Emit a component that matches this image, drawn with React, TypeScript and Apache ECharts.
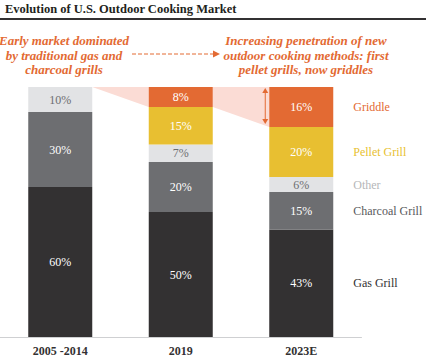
import React, { useEffect, useRef } from "react";
import * as echarts from "echarts";

const categories = ["2005 -2014", "2019", "2023E"];
const gasGrill = [60, 50, 43];
const charcoalGrill = [30, 20, 15];
const other = [10, 7, 6];
const pelletGrill = [0, 15, 20];
const griddle = [0, 8, 16];
const seriesNames = ["Gas Grill", "Charcoal Grill", "Other", "Pellet Grill", "Griddle"];

const FONT = "Liberation Serif";
const ORANGE = "#e36a33";
const BAR_W = 64;

export default function App() {
  const ref = useRef<HTMLDivElement>(null);
  useEffect(() => {
    document.body.style.margin = "0";
    const chart = echarts.init(ref.current!, null, { renderer: "svg" });
    const values = [gasGrill, charcoalGrill, other, pelletGrill, griddle];
    const colors = ["#333132", "#6d6e71", "#e2e3e5", "#e8bf31", ORANGE];
    const labelColors = ["#ffffff", "#ffffff", "#6d6e71", "#ffffff", "#ffffff"];
    const nameColors = ["#333132", "#58595b", "#b6b7b9", "#e8bf31", ORANGE];

    const barSeries = values.map((vals, i) => ({
      type: "bar",
      name: seriesNames[i],
      stack: "total",
      barWidth: BAR_W,
      data: vals,
      itemStyle: { color: colors[i] },
      label: {
        show: true,
        position: "inside",
        color: labelColors[i],
        fontFamily: FONT,
        fontSize: 12,
        formatter: (p: any) => (p.value ? p.value + "%" : ""),
      },
      z: 3,
    }));

    const last = categories.length - 1;
    const labelData: any[] = [];
    let cum = 0;
    values.forEach((vals, i) => {
      const v = vals[last];
      labelData.push([last, cum + v / 2, i]);
      cum += v;
    });

    const nameSeries = {
      type: "custom",
      data: labelData,
      z: 5,
      silent: true,
      renderItem: (params: any, api: any) => {
        const pt = api.coord([api.value(0), api.value(1)]);
        const i = api.value(2);
        return {
          type: "text",
          x: pt[0] + BAR_W / 2 + 20,
          y: pt[1],
          style: {
            text: seriesNames[i],
            fill: nameColors[i],
            fontFamily: FONT,
            fontSize: 12,
            verticalAlign: "middle",
            align: "left",
          },
        };
      },
    };

    const shadeData = categories.slice(1).map((_, k) => [k + 1]);
    const shadeSeries = {
      type: "custom",
      data: shadeData,
      z: 1,
      silent: true,
      renderItem: (params: any, api: any) => {
        const idx = api.value(0);
        const prev = api.coord([idx - 1, 100]);
        const cur = api.coord([idx, 100]);
        const prevBot = api.coord([idx - 1, 100 - griddle[idx - 1]]);
        const curBot = api.coord([idx, 100 - griddle[idx]]);
        return {
          type: "polygon",
          shape: {
            points: [
              [prev[0] + BAR_W / 2, prev[1]],
              [cur[0] - BAR_W / 2, cur[1]],
              [cur[0] - BAR_W / 2, curBot[1]],
              [prev[0] + BAR_W / 2, prevBot[1]],
            ],
          },
          style: { fill: "#fbdcd5" },
        };
      },
    };

    const arrowSeries = {
      type: "custom",
      data: [[last]],
      z: 6,
      silent: true,
      renderItem: (params: any, api: any) => {
        const top = api.coord([last, 100]);
        const bot = api.coord([last, 100 - griddle[last]]);
        const x = top[0] - BAR_W / 2 - 4;
        const y1 = top[1] + 1;
        const y2 = bot[1] - 3;
        return {
          type: "group",
          children: [
            { type: "line", shape: { x1: x, y1: y1 + 3, x2: x, y2: y2 - 3 }, style: { stroke: ORANGE, lineWidth: 1 } },
            { type: "polygon", shape: { points: [[x, y1], [x - 3, y1 + 5], [x + 3, y1 + 5]] }, style: { fill: ORANGE } },
            { type: "polygon", shape: { points: [[x, y2], [x - 3, y2 - 5], [x + 3, y2 - 5]] }, style: { fill: ORANGE } },
          ],
        };
      },
    };

    const anno = (text: string, x: number, y: number) => ({
      type: "text",
      x,
      y,
      style: {
        text,
        fill: ORANGE,
        fontFamily: FONT,
        fontStyle: "italic",
        fontWeight: "bold",
        fontSize: 13,
        align: "center",
        verticalAlign: "middle",
        lineHeight: 14.5,
      },
    });

    chart.setOption({
      animation: false,
      grid: { left: 0, right: 64.5, top: 87, bottom: 19, containLabel: false },
      xAxis: {
        type: "category",
        data: categories,
        axisLine: { lineStyle: { color: "#cfd0d2", width: 1 } },
        axisTick: { show: false },
        axisLabel: { color: "#333132", fontFamily: FONT, fontWeight: "bold", fontSize: 12, margin: 8 },
      },
      yAxis: { type: "value", min: 0, max: 100, show: false, splitLine: { show: false } },
      series: [shadeSeries, ...barSeries, nameSeries, arrowSeries],
      graphic: [
        {
          type: "text",
          x: 5,
          y: 9,
          style: {
            text: "Evolution of U.S. Outdoor Cooking Market",
            fill: "#231f20",
            fontFamily: FONT,
            fontWeight: "bold",
            fontSize: 12.5,
            verticalAlign: "middle",
          },
        },
        { type: "rect", shape: { x: 0, y: 18, width: 426, height: 2 }, style: { fill: "#333132" } },
        anno("Early market dominated\nby traditional gas and\ncharcoal grills", 64, 55),
        anno("Increasing penetration of new\noutdoor cooking methods: first\npellet grills, now griddles", 306, 55),
        {
          type: "line",
          shape: { x1: 132, y1: 54, x2: 214, y2: 54 },
          style: { stroke: ORANGE, lineWidth: 1, lineDash: [4, 2] },
        },
        {
          type: "polygon",
          shape: { points: [[220, 54], [213, 50.5], [213, 57.5]] },
          style: { fill: ORANGE },
        },
      ],
    });
    return () => chart.dispose();
  }, []);
  return <div ref={ref} style={{ width: 426, height: 357 }} />;
}
